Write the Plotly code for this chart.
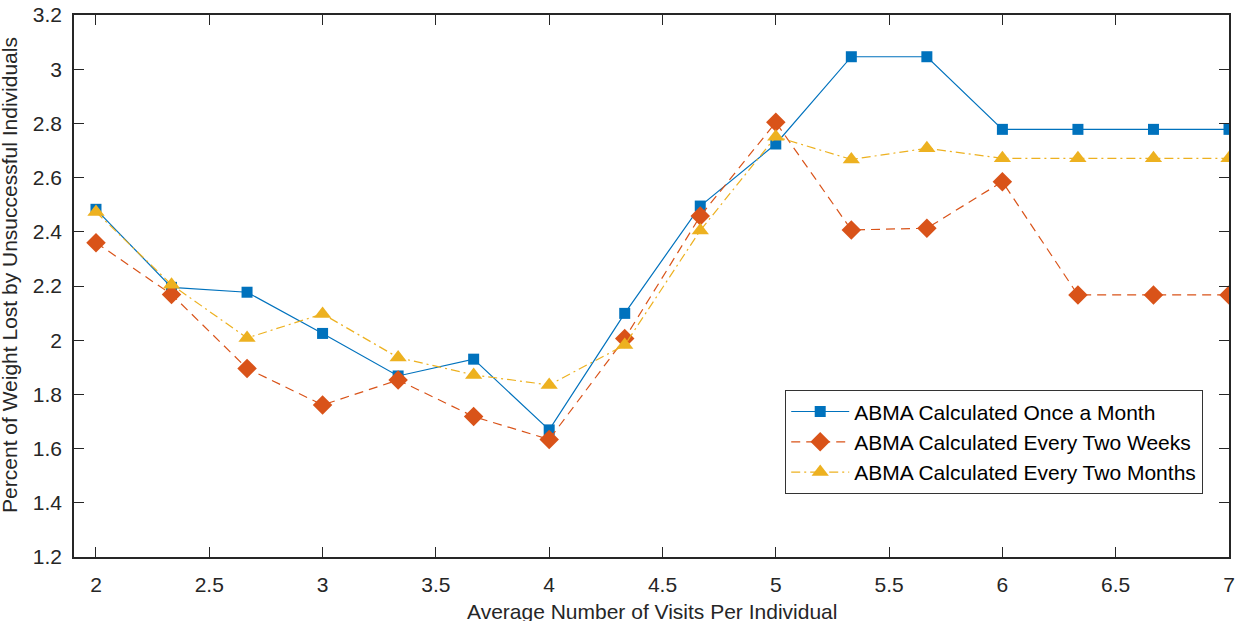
import plotly.graph_objects as go

visits = [2, 7/3, 8/3, 3, 10/3, 11/3, 4, 13/3, 14/3, 5, 16/3, 17/3, 6, 19/3, 20/3, 7]
once_a_month = [2.483, 2.195, 2.177, 2.025, 1.868, 1.930, 1.669, 2.099, 2.495, 2.724,
                3.046, 3.046, 2.778, 2.778, 2.778, 2.778]
every_two_weeks = [2.360, 2.169, 1.896, 1.761, 1.853, 1.718, 1.634, 2.006, 2.458, 2.804,
                   2.407, 2.413, 2.585, 2.167, 2.167, 2.167]
every_two_months = [2.473, 2.205, 2.008, 2.097, 1.936, 1.872, 1.835, 1.982, 2.405, 2.751,
                    2.667, 2.708, 2.671, 2.671, 2.671, 2.671]
series_names = ["ABMA Calculated Once a Month",
                "ABMA Calculated Every Two Weeks",
                "ABMA Calculated Every Two Months"]
x_ticks = [2, 2.5, 3, 3.5, 4, 4.5, 5, 5.5, 6, 6.5, 7]
y_ticks = [1.2, 1.4, 1.6, 1.8, 2, 2.2, 2.4, 2.6, 2.8, 3, 3.2]
y_tick_labels = ["1.2", "1.4", "1.6", "1.8", "2", "2.2", "2.4", "2.6", "2.8", "3", "3.2"]
x_tick_labels = ["2", "2.5", "3", "3.5", "4", "4.5", "5", "5.5", "6", "6.5", "7"]
x_title = "Average Number of Visits Per Individual"
y_title = "Percent of Weight Lost by Unsuccessful Individuals"

FONT = "Liberation Sans, Arial, sans-serif"
TXT = "#262626"
FS = 21

fig = go.Figure()
fig.add_trace(go.Scatter(
    x=visits, y=once_a_month, name=series_names[0], mode="lines+markers",
    line=dict(color="#0072BD", width=1.2),
    marker=dict(symbol="square", size=11, color="#0072BD")))
fig.add_trace(go.Scatter(
    x=visits, y=every_two_weeks, name=series_names[1], mode="lines+markers",
    line=dict(color="#D95319", width=1.2, dash="9px,6px"),
    marker=dict(symbol="diamond", size=15, color="#D95319")))
fig.add_trace(go.Scatter(
    x=visits, y=every_two_months, name=series_names[2], mode="lines+markers",
    line=dict(color="#EDB120", width=1.2, dash="9px,4px,2px,4px"),
    marker=dict(symbol="triangle-up", size=15, color="#EDB120")))

axis_common = dict(
    showline=True, linecolor=TXT, linewidth=1.5, mirror="ticks",
    ticks="inside", ticklen=10, tickwidth=1.2, tickcolor=TXT,
    showgrid=False, zeroline=False, automargin=False,
    tickfont=dict(family=FONT, size=FS, color=TXT),
)

fig.update_layout(
    width=1241, height=621,
    margin=dict(l=74, r=12, t=15, b=64),
    paper_bgcolor="white", plot_bgcolor="white",
    font=dict(family=FONT, size=FS, color=TXT),
    xaxis=dict(range=[1.903, 7.0], tickvals=x_ticks, ticktext=x_tick_labels,
               ticklabelstandoff=8, **axis_common),
    yaxis=dict(range=[1.2, 3.2], tickvals=y_ticks, ticktext=y_tick_labels,
               ticklabelstandoff=6, **axis_common),
    legend=dict(x=0.9775, y=0.116, xanchor="right", yanchor="bottom",
                bgcolor="white", bordercolor="#333333", borderwidth=1.2,
                font=dict(family=FONT, size=FS, color="black"),
                tracegroupgap=0, itemwidth=58),
    showlegend=True,
)

fig.add_annotation(
    text=x_title, xref="paper", yref="paper", x=0.5, y=-0.101,
    xanchor="center", yanchor="middle", showarrow=False,
    font=dict(family=FONT, size=FS, color=TXT))
fig.add_annotation(
    text=y_title, xref="paper", yref="paper", x=-0.0565, y=0.52,
    xanchor="center", yanchor="middle", textangle=-90, showarrow=False,
    font=dict(family=FONT, size=FS, color=TXT))

fig.write_html("out.html")
